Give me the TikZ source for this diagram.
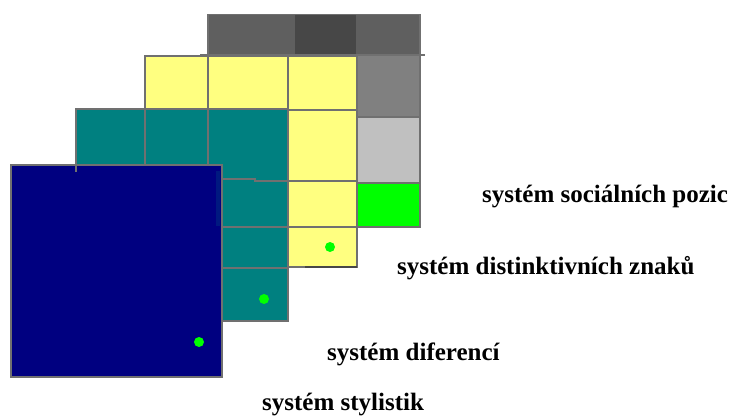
\documentclass[tikz,border=0pt]{standalone}
\usepackage{fontspec}
\setmainfont{Liberation Serif}
\definecolor{gridline}{HTML}{707070}
\definecolor{graymid}{HTML}{5F5F5F}
\definecolor{graydark}{HTML}{474747}
\definecolor{graylight}{HTML}{808080}
\definecolor{graypale}{HTML}{C0C0C0}
\definecolor{brightgreen}{HTML}{00FF00}
\definecolor{paleyellow}{HTML}{FFFF80}
\definecolor{teallayer}{HTML}{008080}
\definecolor{navylayer}{HTML}{000080}
\tikzset{
  cell/.style={draw=gridline, line width=1.2pt},
  gridrule/.style={draw=gridline, line width=1.2pt},
  dot/.style={fill=brightgreen, draw=none},
  caption/.style={anchor=base west, inner sep=0pt, font=\bfseries\fontsize{25}{28}\selectfont}
}
\begin{document}
\begin{tikzpicture}[x=1pt,y=-1pt]
\useasboundingbox (0,0) rectangle (731,416);

% back layer: grey cells
\fill[graymid] (208,14) rectangle (420,55);
\fill[graydark] (295,15) rectangle (356,54);
\draw[gridline, line width=0.8pt] (208,14) -- (420,14);
\draw[gridrule] (208,14) -- (208,55);
\draw[gridrule] (420,14) -- (420,55);
\draw[cell, fill=graylight] (357,55) rectangle (420,117);
\draw[cell, fill=graypale] (357,117) rectangle (420,183);
\draw[cell, fill=brightgreen] (357,183) rectangle (420,227);
\draw[gridrule] (200,55) -- (425,55);

% second layer: yellow cells
\draw[cell, fill=paleyellow] (145,56) rectangle (357,267);
\draw[gridrule] (208,56) -- (208,110);
\draw[gridrule] (288,56) -- (288,267);
\draw[gridrule] (145,110) -- (357,110);
\draw[gridrule] (288,181) -- (357,181);
\draw[gridrule] (288,227) -- (357,227);
\draw[graydark, line width=1.2pt] (305,267) -- (357,267);
\fill[dot] (330,247) circle (5);

% third layer: teal cells
\draw[cell, fill=teallayer] (76,109) rectangle (288,321);
\draw[gridrule] (145,109) -- (145,165);
\draw[gridrule] (208,109) -- (208,170);
\draw[gridrule] (222,179) -- (255,179) -- (255,181) -- (288,181);
\draw[gridrule] (217,227) -- (288,227);
\draw[gridrule] (220,268) -- (288,268);
\fill[dot] (264,299) circle (5);

% front layer: navy
\draw[cell, fill=navylayer] (11,165) rectangle (222,377);
\fill[navylayer!80!teallayer] (216,171) rectangle (220,226);
\draw[gridrule] (76,165) -- (76,172);
\fill[dot] (199,342) circle (5);

% captions
\node[caption] (pozice) at (482,202) {systém sociálních pozic};
\node[caption] (znaky) at (397,274) {systém distinktivních znaků};
\node[caption] (diference) at (327,360) {systém diferencí};
\node[caption] (stylistiky) at (262,410) {systém stylistik};
\end{tikzpicture}
\end{document}
